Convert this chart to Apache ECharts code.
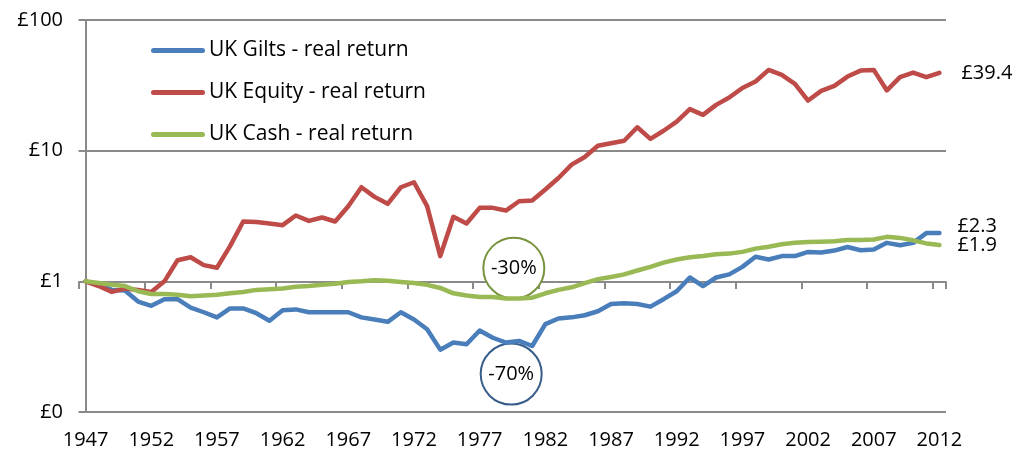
<!DOCTYPE html>
<html>
<head>
<meta charset="utf-8">
<script src="https://cdn.jsdelivr.net/npm/echarts@6/dist/echarts.min.js"></script>
<style>html,body{margin:0;padding:0;background:#fff}#c{width:1019px;height:454px}</style>
</head>
<body>
<div id="c"></div>
<script>
var years = ['1947','1948','1949','1950','1951','1952','1953','1954','1955','1956',
  '1957','1958','1959','1960','1961','1962','1963','1964','1965','1966',
  '1967','1968','1969','1970','1971','1972','1973','1974','1975','1976',
  '1977','1978','1979','1980','1981','1982','1983','1984','1985','1986',
  '1987','1988','1989','1990','1991','1992','1993','1994','1995','1996',
  '1997','1998','1999','2000','2001','2002','2003','2004','2005','2006',
  '2007','2008','2009','2010','2011','2012'];
var gilts = [1.0,0.94,0.86,0.85,0.70,0.65,0.73,0.73,0.63,0.58,
  0.53,0.62,0.62,0.57,0.50,0.60,0.61,0.58,0.58,0.58,
  0.58,0.53,0.51,0.49,0.58,0.51,0.43,0.30,0.34,0.33,
  0.42,0.37,0.34,0.35,0.32,0.47,0.52,0.53,0.55,0.59,
  0.67,0.68,0.67,0.64,0.73,0.84,1.07,0.92,1.07,1.13,
  1.29,1.54,1.47,1.56,1.56,1.68,1.66,1.72,1.83,1.73,
  1.75,1.97,1.89,1.97,2.34,2.34];
var equity = [1.0,0.92,0.83,0.88,0.86,0.83,1.0,1.45,1.53,1.33,
  1.27,1.86,2.87,2.84,2.77,2.69,3.19,2.9,3.08,2.87,
  3.76,5.25,4.43,3.92,5.25,5.73,3.76,1.56,3.12,2.77,
  3.65,3.65,3.48,4.1,4.15,5.04,6.18,7.82,8.95,10.9,
  11.4,11.9,15.1,12.3,14.2,16.7,20.8,18.8,22.4,25.5,
  30.2,33.8,41.5,38.0,32.5,24.2,28.7,31.3,36.9,41.0,
  41.5,28.9,36.5,39.6,36.5,39.4];
var cash = [1.0,0.97,0.94,0.92,0.84,0.80,0.80,0.79,0.77,0.78,
  0.79,0.81,0.83,0.86,0.87,0.88,0.91,0.92,0.94,0.96,
  0.99,1.0,1.02,1.01,0.99,0.97,0.94,0.89,0.81,0.78,
  0.76,0.76,0.74,0.74,0.75,0.81,0.86,0.90,0.97,1.04,
  1.08,1.13,1.21,1.29,1.39,1.47,1.53,1.56,1.61,1.63,
  1.68,1.78,1.84,1.92,1.97,2.0,2.01,2.03,2.07,2.07,
  2.09,2.19,2.15,2.06,1.95,1.90];
var seriesNames = ['UK Gilts - real return','UK Equity - real return','UK Cash - real return'];
var endLabels = ['£2.3','£39.4','£1.9'];
var yTickLabels = ['£0','£1','£10','£100'];
// annotation circles: x is a fractional year index (0 = 1947), y is value
var annotations = [
  {text:'-30%', x:32.6, y:1.26},
  {text:'-70%', x:32.4, y:0.195}
];

var FONT = 'Open Sans';
var chart = echarts.init(document.getElementById('c'), null, {renderer:'canvas'});
var colors = ['#4A7EBB','#BE4B48','#98B954'];
var circleColors = ['#77933C','#385D8A'];
var grey = '#8a8a8a';

function lineSeries(i, data, extra) {
  var s = {
    name: seriesNames[i], type: 'line', data: data, xAxisIndex: 0, yAxisIndex: 0,
    symbol: 'none', smooth: false, z: 3,
    lineStyle: {color: colors[i], width: 4.5, join: 'round', cap: 'round'},
    itemStyle: {color: colors[i]},
    endLabel: {show: true, formatter: endLabels[i], color: '#000', fontSize: 20, fontFamily: FONT, distance: 18},
    emphasis: {disabled: true}, animation: false
  };
  if (extra) Object.assign(s.endLabel, extra);
  return s;
}

var option = {
  animation: false,
  textStyle: {fontFamily: FONT},
  grid: {left: 79, right: 73, top: 20, bottom: 42, containLabel: false},
  legend: {
    orient: 'vertical', left: 151, top: 40, padding: 0, itemGap: 21,
    itemWidth: 54, itemHeight: 5,
    icon: 'path://M2.5 0H51.5A2.5 2.5 0 0 1 51.5 5H2.5A2.5 2.5 0 0 1 2.5 0Z',
    data: seriesNames,
    textStyle: {fontSize: 21, color: '#000', fontFamily: FONT, padding: [0,0,0,-1]},
    selectedMode: false
  },
  xAxis: [{
    type: 'category', data: years, boundaryGap: true, position: 'bottom',
    axisLine: {show: false}, axisTick: {show: false},
    axisLabel: {interval: 4, margin: 18, fontSize: 20, color: '#000', fontFamily: FONT},
    splitLine: {show: false}
  }, {
    type: 'category', data: years, boundaryGap: true, position: 'bottom', offset: -130,
    axisLine: {show: true, lineStyle: {color: grey, width: 2}},
    axisTick: {show: true, interval: 4, length: 7, inside: false, lineStyle: {color: grey, width: 2}},
    axisLabel: {show: false},
    splitLine: {show: false}
  }, {
    type: 'value', min: -0.5, max: years.length - 0.5, show: false
  }],
  yAxis: {
    type: 'log', logBase: 10, min: 0.1, max: 100,
    axisLine: {show: true, lineStyle: {color: grey, width: 2}},
    axisTick: {show: true, length: 7, lineStyle: {color: grey, width: 2}},
    splitLine: {show: true, lineStyle: {color: grey, width: 2}},
    axisLabel: {
      margin: 16, fontSize: 20, color: '#000', fontFamily: FONT,
      formatter: function (v) { var k = Math.round(Math.log10(v)) + 1; return yTickLabels[k]; }
    }
  },
  series: [
    {
      name: 'annotations', type: 'scatter', xAxisIndex: 2, yAxisIndex: 0, z: 2,
      symbol: 'circle', symbolSize: 61, silent: true,
      data: annotations.map(function (a, i) {
        return {
          value: [a.x, a.y],
          itemStyle: {color: '#fff', borderColor: circleColors[i], borderWidth: 2, opacity: 1},
          label: {show: true, position: 'inside', formatter: a.text, color: '#000', fontSize: 20, fontFamily: FONT}
        };
      })
    },
    lineSeries(0, gilts, {offset: [0, -7]}),
    lineSeries(1, equity, {distance: 22}),
    lineSeries(2, cash)
  ]
};
chart.setOption(option);
</script>
</body>
</html>
